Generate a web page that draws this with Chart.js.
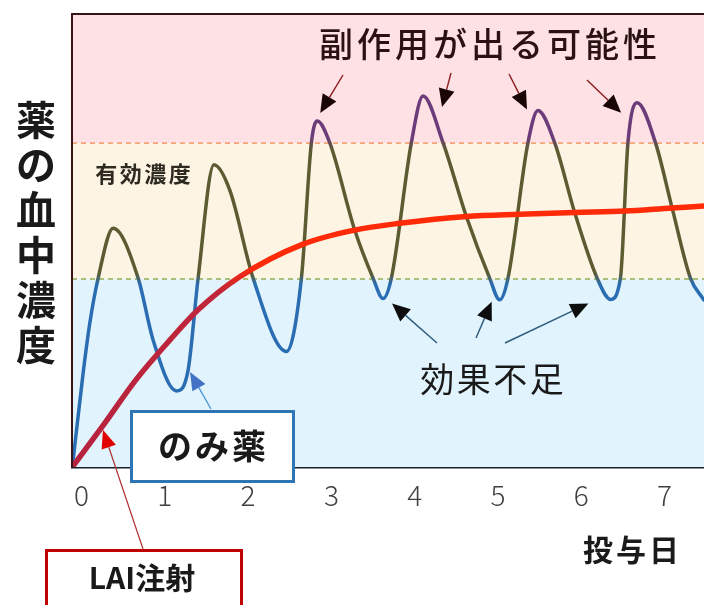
<!DOCTYPE html>
<html>
<head>
<meta charset="utf-8">
<script src="https://cdn.jsdelivr.net/npm/chart.js@4.4.0/dist/chart.umd.min.js"></script>
<style>
  html, body { margin: 0; padding: 0; background: #ffffff; overflow: hidden; }
  canvas { display: block; }
</style>
</head>
<body>
<canvas id="c" width="704" height="605"></canvas>
<script>
// Axis ticks (days of dosing)
const dayTicks = [0, 1, 2, 3, 4, 5, 6, 7];

// Daily oral tablet: blood level rises and falls after each dose
const oralDays = [-0.11, 0.02, 0.10, 0.20, 0.38, 0.68, 0.86, 1.14, 1.28, 1.40,
                  1.59, 1.78, 2.06, 2.46, 2.64, 2.76, 2.83, 2.98, 3.28, 3.50,
                  3.62, 3.72, 3.96, 4.10, 4.34, 4.62, 4.90, 5.02, 5.12, 5.36,
                  5.48, 5.68, 5.92, 6.19, 6.35, 6.47, 6.56, 6.67, 6.89, 7.09,
                  7.31, 7.47];
const oralLevels = [0, 20.8, 31.8, 41.7, 52.7, 41.7, 28.0, 16.8, 21.4, 41.7,
                    66.7, 61.1, 41.7, 25.5, 41.7, 71.6, 76.4, 71.6, 52.3, 41.7,
                    37.2, 41.7, 71.6, 81.9, 71.6, 55.3, 41.7, 36.9, 41.7, 71.6,
                    78.7, 71.6, 56.2, 41.7, 37.0, 41.7, 71.6, 80.4, 71.6, 57.2,
                    41.7, 36.9];

// Long-acting injection: smooth rise towards a steady level
const laiDays = [-0.11, 0.26, 0.66, 1.06, 1.40, 1.90, 2.66, 3.28, 3.82, 4.62,
                 5.26, 5.92, 6.52, 7.09, 7.47];
const laiLevels = [0, 9.2, 19.4, 28.0, 34.7, 42.0, 49.2, 52.3, 53.8, 55.3,
                   55.8, 56.2, 56.5, 57.2, 57.6];

// Lower and upper limit of the effective concentration range
const effectiveRange = [41.5, 71.5];

const JP = '"Noto Sans CJK JP", "Noto Sans", sans-serif';

function toPoints(xs, ys) {
  return xs.map((x, i) => ({ x: x, y: ys[i] }));
}

// Stroke colour that changes with the concentration band the line passes through
function levelGradient(context, stops) {
  const chart = context.chart;
  const area = chart.chartArea;
  if (!area) return stops[0][1];
  const y = chart.scales.y;
  const g = chart.ctx.createLinearGradient(0, area.bottom, 0, area.top);
  stops.forEach(([v, c]) => {
    const t = (y.getPixelForValue(v) - area.bottom) / (area.top - area.bottom);
    g.addColorStop(Math.min(1, Math.max(0, t)), c);
  });
  return g;
}

const lo = effectiveRange[0], hi = effectiveRange[1];
const oralStops = [[0, '#2a6db3'], [lo - 1.2, '#2a6db3'], [lo + 1.2, '#5c5b32'],
                   [hi - 1.2, '#5c5b32'], [hi + 1.2, '#6c3b7a'], [100, '#6c3b7a']];
const laiStops = [[0, '#b5233f'], [lo - 3, '#c0263a'], [lo + 3, '#ff2a08'], [100, '#ff2a08']];

// Coloured concentration bands and their dashed limits
const bandsPlugin = {
  id: 'bands',
  beforeDatasetsDraw(chart) {
    const { ctx, chartArea: a, scales: { y } } = chart;
    const yLo = y.getPixelForValue(lo), yHi = y.getPixelForValue(hi);
    ctx.save();
    ctx.fillStyle = '#fde1e4';
    ctx.fillRect(a.left, a.top, a.right - a.left, yHi - a.top);
    ctx.fillStyle = '#fdf4e3';
    ctx.fillRect(a.left, yHi, a.right - a.left, yLo - yHi);
    ctx.fillStyle = '#e1f3fc';
    ctx.fillRect(a.left, yLo, a.right - a.left, a.bottom - yLo);
    ctx.setLineDash([5, 4]);
    ctx.lineWidth = 1.3;
    ctx.strokeStyle = '#ef8a52';
    ctx.beginPath(); ctx.moveTo(a.left, yHi); ctx.lineTo(a.right, yHi); ctx.stroke();
    ctx.strokeStyle = '#94ad55';
    ctx.beginPath(); ctx.moveTo(a.left, yLo); ctx.lineTo(a.right, yLo); ctx.stroke();
    ctx.restore();
  }
};

function arrow(ctx, x1, y1, x2, y2, lineColor, headColor, lw, hl, hw) {
  const ang = Math.atan2(y2 - y1, x2 - x1);
  const bx = x2 - Math.cos(ang) * hl, by = y2 - Math.sin(ang) * hl;
  ctx.save();
  ctx.strokeStyle = lineColor;
  ctx.lineWidth = lw;
  ctx.beginPath(); ctx.moveTo(x1, y1); ctx.lineTo(bx, by); ctx.stroke();
  ctx.fillStyle = headColor;
  ctx.beginPath();
  ctx.moveTo(x2, y2);
  ctx.lineTo(bx + Math.sin(ang) * hw / 2, by - Math.cos(ang) * hw / 2);
  ctx.lineTo(bx - Math.sin(ang) * hw / 2, by + Math.cos(ang) * hw / 2);
  ctx.closePath();
  ctx.fill();
  ctx.restore();
}

function spacedText(ctx, text, cx, cy, adv) {
  const chars = Array.from(text);
  const x0 = cx - adv * (chars.length - 1) / 2;
  ctx.textAlign = 'center';
  ctx.textBaseline = 'middle';
  chars.forEach((ch, i) => ctx.fillText(ch, x0 + i * adv, cy));
}

// Labels, call-out boxes and arrows
const notesPlugin = {
  id: 'notes',
  afterDatasetsDraw(chart) {
    const { ctx, chartArea: a, scales: { x, y } } = chart;
    ctx.save();

    // frame: top and left edges of the plot
    ctx.strokeStyle = '#3a1414';
    ctx.lineWidth = 2;
    ctx.beginPath();
    ctx.moveTo(a.left, a.bottom); ctx.lineTo(a.left, a.top); ctx.lineTo(a.right, a.top);
    ctx.stroke();

    // find the peaks above the upper limit and the troughs below the lower limit
    const peaks = [], troughs = [];
    for (let i = 1; i < oralLevels.length - 1; i++) {
      const v = oralLevels[i];
      if (v > oralLevels[i - 1] && v > oralLevels[i + 1] && v > hi) peaks.push(i);
      if (v < oralLevels[i - 1] && v < oralLevels[i + 1] && v < lo) troughs.push(i);
    }
    const px = i => x.getPixelForValue(oralDays[i]);
    const py = i => y.getPixelForValue(oralLevels[i]);

    // side-effect call-out
    ctx.fillStyle = '#2a1212';
    ctx.font = '500 34px ' + JP;
    spacedText(ctx, '副作用が出る可能性', 488, 44, 38);
    const peakTails = [[343, 75], [451, 73], [509, 74], [587, 80]];
    const peakOff = [[3, -8], [19, 11], [-11, -1], [-16, 10]];
    peaks.slice(-4).forEach((idx, k) => {
      arrow(ctx, peakTails[k][0], peakTails[k][1], px(idx) + peakOff[k][0], py(idx) + peakOff[k][1],
            '#8a1c1c', '#1a0505', 1.4, 18, 16);
    });

    // insufficient-effect call-out
    ctx.fillStyle = '#1a1a1a';
    ctx.font = '34px ' + JP;
    spacedText(ctx, '効果不足', 492, 379, 36.5);
    const troughTails = [[437, 343], [476, 338], [505, 343]];
    const troughOff = [[9, 5], [-8, 2], [-22, 4]];
    troughs.slice(-3).forEach((idx, k) => {
      arrow(ctx, troughTails[k][0], troughTails[k][1], px(idx) + troughOff[k][0], py(idx) + troughOff[k][1],
            '#2d5a7c', '#0d0d0d', 1.4, 18, 16);
    });

    // effective range label
    ctx.fillStyle = '#2e2a22';
    ctx.font = 'bold 22px ' + JP;
    spacedText(ctx, '有効濃度', 143, 174, 24.5);

    // oral tablet box
    arrow(ctx, 211, 409, 190, 372, '#3a8fd0', '#4472c4', 1.2, 18, 15);
    ctx.fillStyle = '#ffffff';
    ctx.fillRect(130, 410, 165, 73);
    ctx.strokeStyle = '#2e75b6';
    ctx.lineWidth = 3;
    ctx.strokeRect(131.5, 411.5, 162, 70);
    ctx.fillStyle = '#1a1a1a';
    ctx.font = 'bold 34px ' + JP;
    spacedText(ctx, 'のみ薬', 212, 446, 37);

    ctx.restore();
  },
  afterDraw(chart) {
    const ctx = chart.ctx;
    ctx.save();
    // injection box
    arrow(ctx, 143, 549, 103, 430, '#b03030', '#e00000', 1.2, 18, 15);
    ctx.fillStyle = '#ffffff';
    ctx.fillRect(45, 549, 198, 70);
    ctx.strokeStyle = '#c00000';
    ctx.lineWidth = 3;
    ctx.strokeRect(46.5, 550.5, 195, 70);
    ctx.fillStyle = '#1a1a1a';
    ctx.font = 'bold 30px ' + JP;
    ctx.textAlign = 'center';
    ctx.textBaseline = 'middle';
    ctx.fillText('LAI注射', 142, 578);

    // axis titles
    ctx.font = 'bold 30px ' + JP;
    spacedText(ctx, '投与日', 631, 550, 33);
    ctx.font = 'bold 40px ' + JP;
    Array.from('薬の血中濃度').forEach((ch, i) => {
      ctx.fillText(ch, 36, 120 + i * 45);
    });
    ctx.restore();
  }
};

new Chart(document.getElementById('c'), {
  type: 'line',
  data: {
    datasets: [
      {
        label: 'LAI注射',
        data: toPoints(laiDays, laiLevels),
        borderColor: ctx => levelGradient(ctx, laiStops),
        borderWidth: 5.5,
        pointRadius: 0,
        cubicInterpolationMode: 'monotone',
        fill: false,
        borderCapStyle: 'round'
      },
      {
        label: 'のみ薬',
        data: toPoints(oralDays, oralLevels),
        borderColor: ctx => levelGradient(ctx, oralStops),
        borderWidth: 3.5,
        pointRadius: 0,
        cubicInterpolationMode: 'monotone',
        fill: false,
        borderCapStyle: 'round'
      }
    ]
  },
  options: {
    responsive: false,
    animation: false,
    events: [],
    layout: { padding: { left: 72, top: 14, right: 0, bottom: 0 } },
    plugins: { legend: { display: false }, tooltip: { enabled: false } },
    scales: {
      x: {
        type: 'linear',
        min: -0.114,
        max: 7.473,
        afterBuildTicks: s => { s.ticks = dayTicks.map(v => ({ value: v })); },
        afterFit: s => { s.height = 138; },
        grid: { display: false, drawTicks: false },
        border: { display: true, color: '#17222e', width: 2.5 },
        ticks: {
          color: '#404040',
          padding: 12,
          maxRotation: 0,
          font: { family: JP, size: 28, weight: '300' }
        }
      },
      y: { min: 0, max: 100, display: false }
    }
  },
  plugins: [bandsPlugin, notesPlugin]
});
</script>
</body>
</html>
